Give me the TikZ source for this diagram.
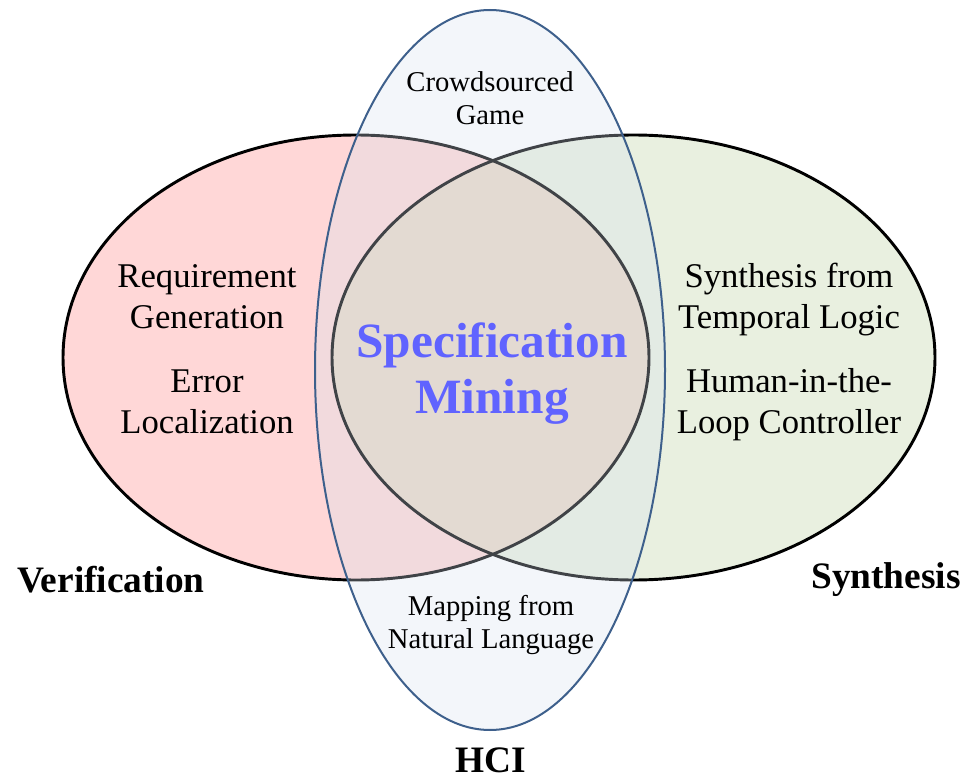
\documentclass[tikz,border=0pt]{standalone}
\usepackage{fontspec}
\setmainfont{Liberation Serif}
\definecolor{verifill}{RGB}{255,215,215}
\definecolor{synfill}{RGB}{200,217,177}
\definecolor{hcifill}{RGB}{215,225,238}
\definecolor{hciline}{RGB}{62,96,140}
\definecolor{minetext}{RGB}{96,99,255}
\tikzset{
  setline/.style={line width=2.2pt, draw=black},
  itemtext/.style={font=\fontsize{26}{30.5}\selectfont, align=center, anchor=base, inner sep=0pt},
  hcitext/.style={font=\fontsize{21.5}{24.75}\selectfont, align=center, anchor=base, inner sep=0pt},
  settitle/.style={font=\fontsize{28}{32}\selectfont\bfseries, anchor=base, inner sep=0pt},
}
\begin{document}
\begin{tikzpicture}[x=0.75pt, y=-0.75pt]
  \useasboundingbox (0,0) rectangle (964,781);
  % fills of the two wide sets
  \fill[verifill] (356,357.5) ellipse [x radius=293, y radius=222.5];
  \fill[synfill, fill opacity=0.4] (633.5,357.5) ellipse [x radius=301.5, y radius=222.5];
  % outlines of the two wide sets
  \draw[setline] (356,357.5) ellipse [x radius=293, y radius=222.5];
  \draw[setline] (633.5,357.5) ellipse [x radius=301.5, y radius=222.5];
  % the tall HCI set, laid over both
  \fill[hcifill, fill opacity=0.3] (490,370) ellipse [x radius=175, y radius=360];
  \draw[hciline, line width=1.5pt] (490,370) ellipse [x radius=175, y radius=360];

  % contents (each node sits on the baseline of its last line)
  \node[hcitext] (crowd) at (490,125) {Crowdsourced\\Game};
  \node[hcitext] (nlmap) at (491,648) {Mapping from\\Natural Language};
  \node[itemtext] (reqgen) at (207,328) {Requirement\\Generation};
  \node[itemtext] (errloc) at (207,433) {Error\\Localization};
  \node[itemtext] (synltl) at (789,328) {Synthesis from\\Temporal Logic};
  \node[itemtext] (hitl) at (789,433) {Human-in-the-\\Loop Controller};
  \node[font=\fontsize{37}{42}\selectfont\bfseries, text=minetext, align=center, anchor=base, inner sep=0pt]
    (mining) at (492,413) {Specification\\Mining};

  % set names
  \node[settitle] (verif) at (111,592) {Verification};
  \node[settitle] (synth) at (886,588) {Synthesis};
  \node[settitle] (hci) at (491,772) {HCI};
\end{tikzpicture}
\end{document}
